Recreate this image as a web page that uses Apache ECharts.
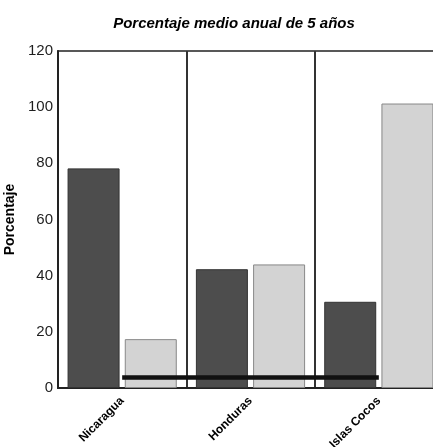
<!DOCTYPE html>
<html>
<head>
<meta charset="utf-8">
<script src="https://cdn.jsdelivr.net/npm/echarts@6/dist/echarts.min.js"></script>
<style>html,body{margin:0;padding:0;background:#fff;}#c{width:433px;height:447px;}</style>
</head>
<body>
<div id="c"></div>
<script>
const categories = ['Nicaragua', 'Honduras', 'Islas Cocos'];
const seriesDark = [78.2, 42.3, 30.7];
const seriesLight = [17.4, 44.0, 101.3];
const lineValues = [3.7, 3.7, 3.7];
const yTicks = [0, 20, 40, 60, 80, 100, 120];

const chart = echarts.init(document.getElementById('c'), null, {renderer: 'canvas'});
chart.setOption({
  backgroundColor: '#fff',
  animation: false,
  title: {
    text: 'Porcentaje medio anual de 5 años',
    left: 229, top: 11, textAlign: 'center',
    textStyle: {fontFamily: 'Liberation Sans', fontSize: 15, fontWeight: 'bold', fontStyle: 'italic', color: '#000'}
  },
  grid: {
    left: 58, top: 51, width: 385, height: 337,
    outerBoundsMode: 'none', containLabel: false,
    show: true, borderColor: '#222', borderWidth: 1.5, backgroundColor: 'transparent'
  },
  xAxis: {
    type: 'category',
    data: categories,
    boundaryGap: true,
    axisLine: {lineStyle: {color: '#222', width: 2}},
    axisTick: {show: false},
    splitLine: {show: true, lineStyle: {color: '#333', width: 2}},
    axisLabel: {
      rotate: 45, margin: 11, interval: 0,
      fontFamily: 'Liberation Sans', fontSize: 12, fontWeight: 'bold', color: '#000'
    }
  },
  yAxis: {
    type: 'value',
    min: yTicks[0], max: yTicks[yTicks.length - 1], interval: 20,
    name: 'Porcentaje',
    nameLocation: 'middle', nameGap: 34, nameRotate: 90,
    nameTextStyle: {fontFamily: 'Liberation Sans', fontSize: 14, fontWeight: 'bold', color: '#000'},
    axisLine: {show: true, lineStyle: {color: '#222', width: 2}},
    axisTick: {show: false},
    splitLine: {show: false},
    axisLabel: {margin: 5, fontFamily: 'Liberation Sans', fontSize: 15, color: '#1e1e1e'}
  },
  series: [
    {
      type: 'bar', data: seriesDark, barWidth: 52, barGap: '10%',
      itemStyle: {color: '#4d4d4d', borderColor: '#333', borderWidth: 1}
    },
    {
      type: 'bar', data: seriesLight, barWidth: 52, barGap: '10%',
      itemStyle: {color: '#d3d3d3', borderColor: '#888', borderWidth: 1}
    },
    {
      type: 'line', data: lineValues, symbol: 'none', z: 10,
      lineStyle: {color: '#111', width: 4.5}
    }
  ]
});
</script>
</body>
</html>
